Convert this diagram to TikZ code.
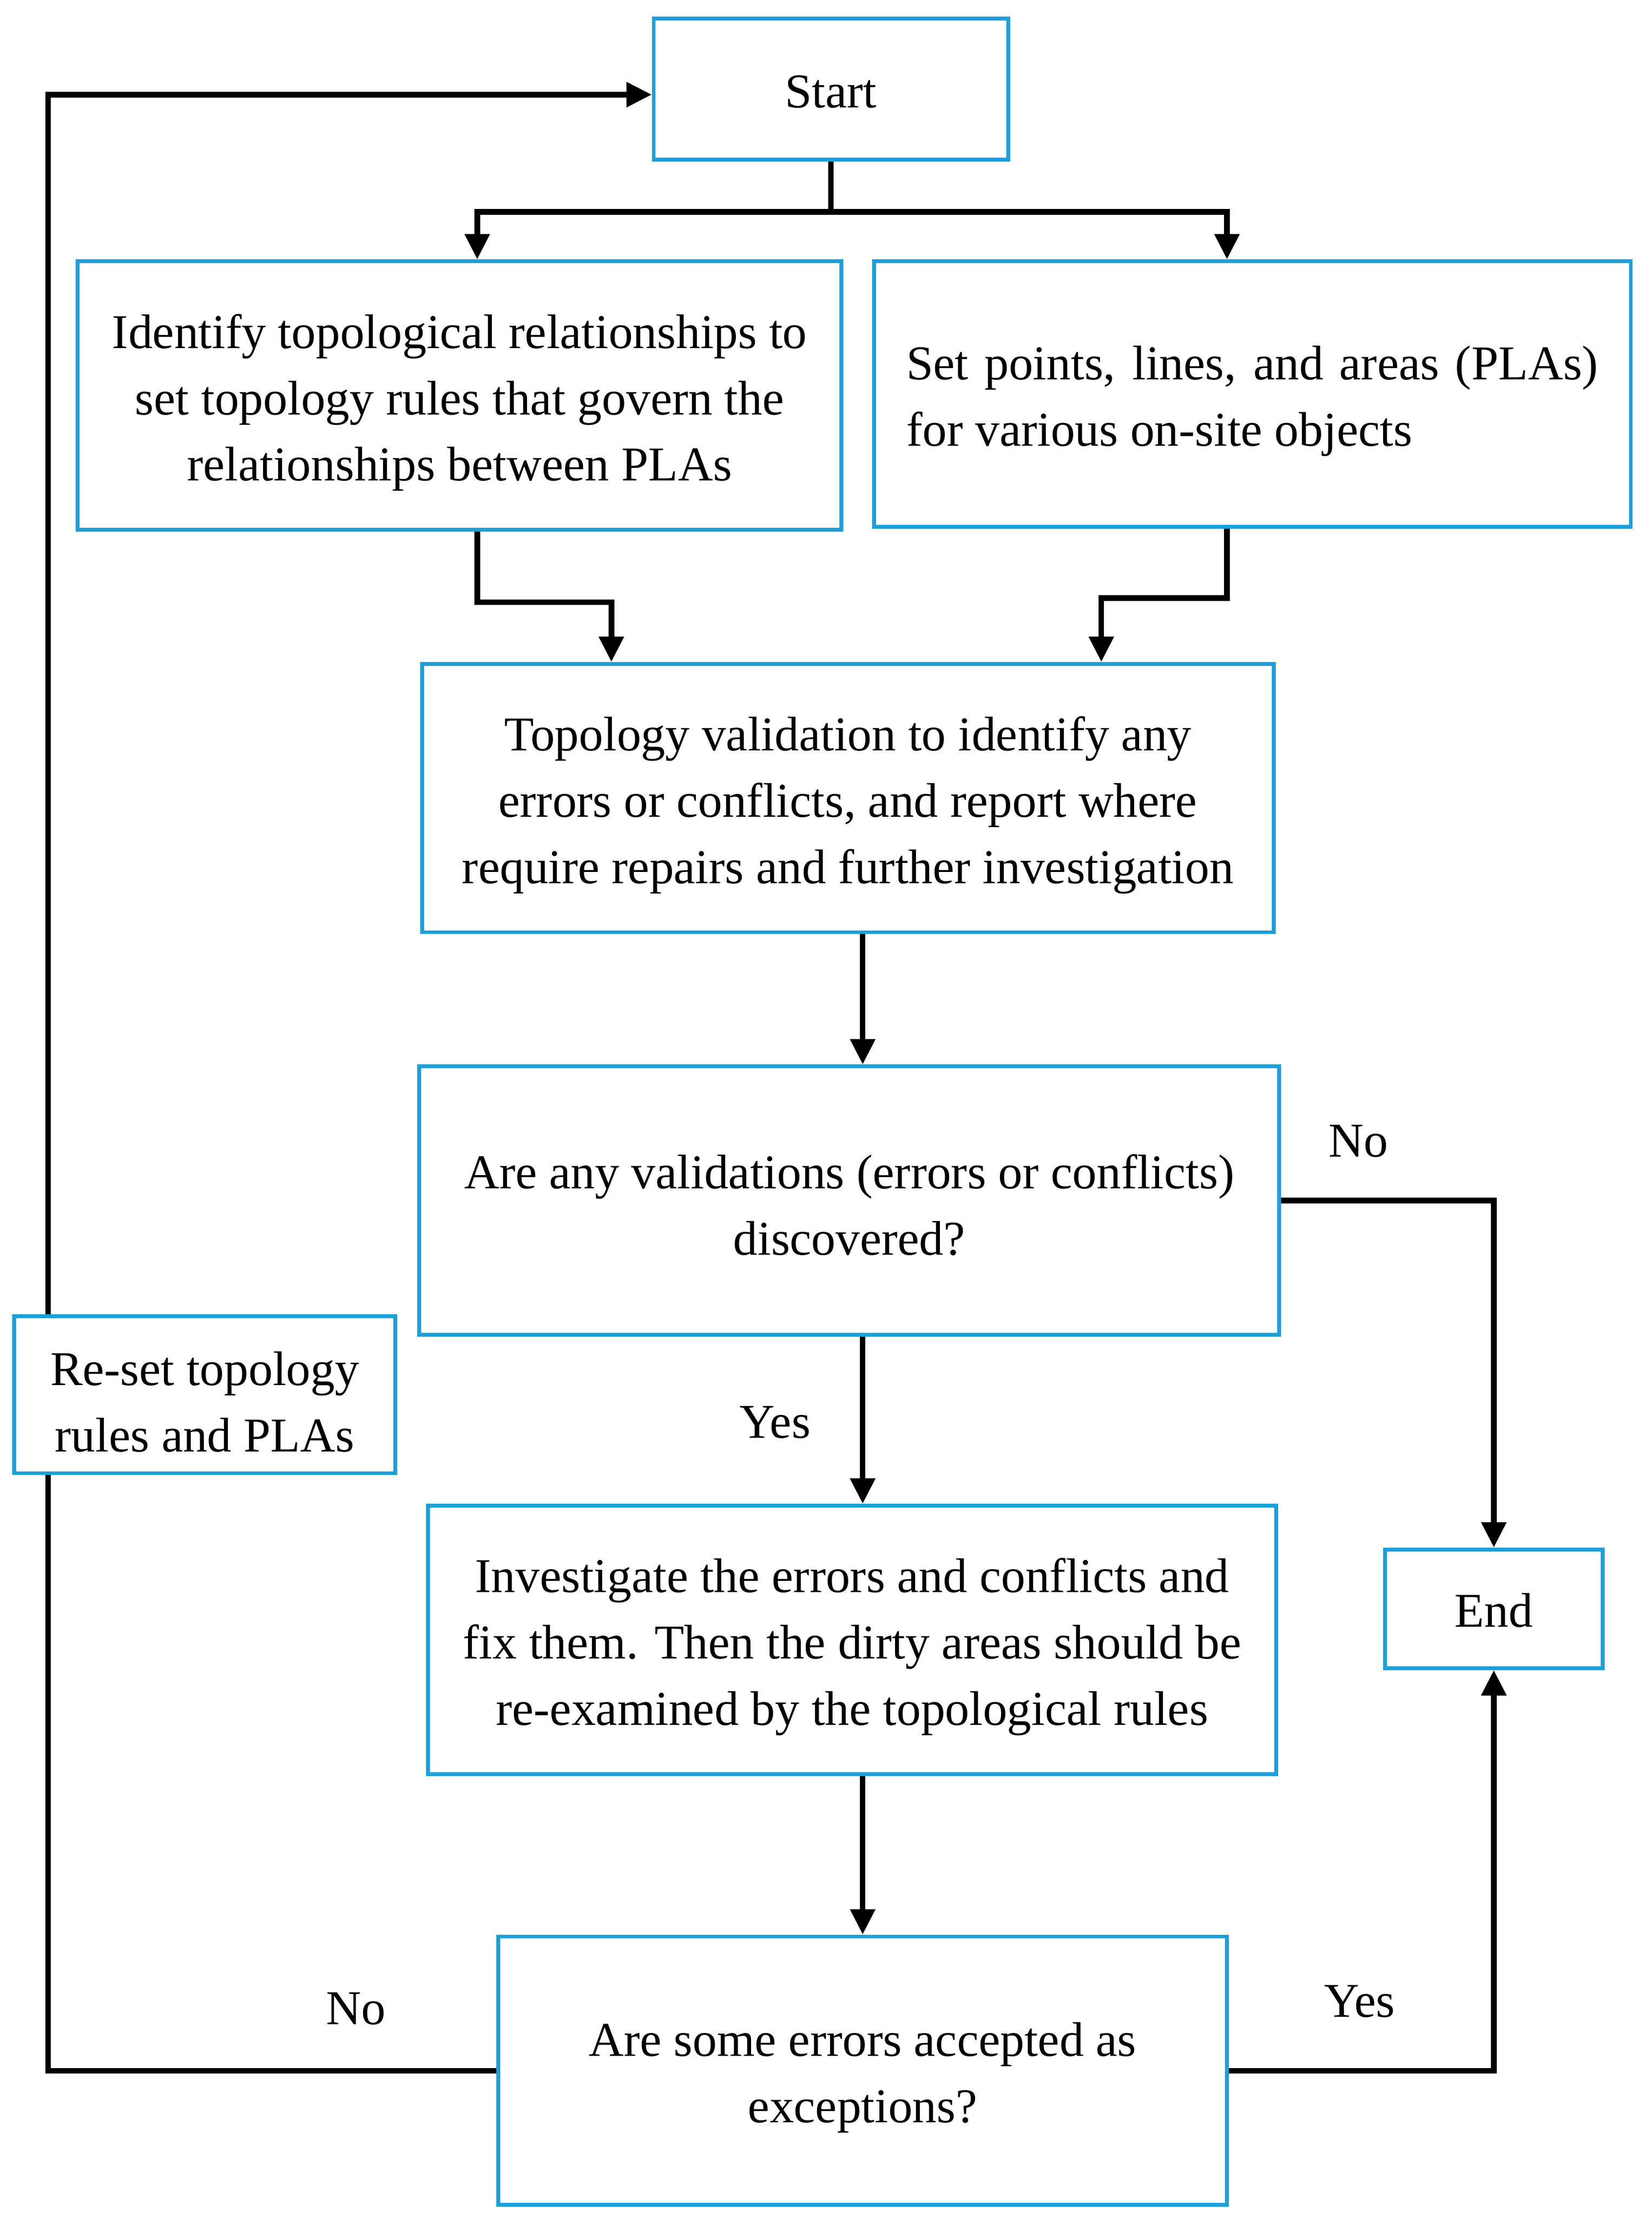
\documentclass[tikz,border=0pt]{standalone}
\usepackage{fontspec}
\setmainfont{Liberation Serif}
\usetikzlibrary{arrows.meta}
\definecolor{boxblue}{RGB}{29,159,217}
\tikzset{
  box/.style={draw=boxblue, line width=1.35pt, fill=white, inner sep=0pt},
  txt/.style={inner sep=0pt, align=center, font=\fontsize{17.2}{23.5}\selectfont},
  conn/.style={line width=2pt, draw=black},
  arr/.style={conn, -{Triangle[length=9pt,width=8.5pt]}},
  lbl/.style={font=\fontsize{17.2}{23.5}\selectfont, inner sep=0pt}
}
\begin{document}
\begin{tikzpicture}[x=0.5pt,y=-0.5pt]
\useasboundingbox (0,0) rectangle (1170,1569.6);
\node[box, minimum width=125.5pt, minimum height=50pt] (start) at (588.5,63) {};
\node[txt] (starttxt) at ([yshift=-1pt]start.center) {Start};
\node[box, minimum width=270.5pt, minimum height=95pt] (ident) at (325.5,280) {};
\node[txt] (identtxt) at ([yshift=-2.5pt]ident.center)
  {Identify topological relationships to\\ set topology rules that govern the\\ relationships between PLAs};
\node[box, minimum width=268pt, minimum height=94pt] (setp) at (887,279) {};
\node[txt, text width=245pt, align=justify] (setptxt) at ([yshift=-2.5pt]setp.center)
  {Set points, lines, and areas (PLAs) for various on-site objects};
\node[box, minimum width=301.5pt, minimum height=95pt] (valid) at (600.5,565) {};
\node[txt] (validtxt) at ([yshift=-2.5pt]valid.center)
  {Topology validation to identify any\\ errors or conflicts, and report where\\ require repairs and further investigation};
\node[box, minimum width=304.5pt, minimum height=95pt] (q1) at (601.5,850) {};
\node[txt] (q1txt) at ([yshift=-1.5pt]q1.center)
  {Are any validations (errors or conflicts)\\ discovered?};
\node[box, minimum width=300.5pt, minimum height=95pt] (inv) at (603.5,1161) {};
\node[txt] (invtxt) at ([yshift=-2.5pt]inv.center)
  {Investigate the errors and conflicts and\\ fix them. Then the dirty areas should be\\ re-examined by the topological rules};
\node[box, minimum width=77pt, minimum height=42pt] (end) at (1058,1139) {};
\node[txt] (endtxt) at ([yshift=-0.5pt]end.center) {End};
\node[box, minimum width=258pt, minimum height=95pt] (q2) at (611,1466) {};
\node[txt] (q2txt) at ([yshift=-2.5pt]q2.center)
  {Are some errors accepted as\\ exceptions?};

\coordinate (split) at (588.5,150);
\coordinate (lx) at (338,0);
\coordinate (rx) at (869,0);
\coordinate (mx) at (611,0);
\coordinate (vlx) at (433,0);
\coordinate (vrx) at (780,0);
\coordinate (loop) at (34,67);

\draw[conn] (start.south) -- (split);
\draw[arr] (split) -| (ident.north -| lx);
\draw[arr] (split) -| (setp.north -| rx);
\draw[arr] (ident.south -| lx) -- ++(0,50) -| (valid.north -| vlx);
\draw[arr] (setp.south -| rx) -- ++(0,49) -| (valid.north -| vrx);
\draw[arr] (valid.south -| mx) -- (q1.north -| mx);
\draw[arr] (q1.south -| mx) -- (inv.north -| mx);
\draw[arr] (inv.south -| mx) -- (q2.north -| mx);
\draw[arr] (q1.east) -| (end.north);
\draw[arr] (q2.east) -| (end.south);
\draw[arr] (q2.west) -| (loop) -- (loop -| start.west);

\node[box, fill=white, minimum width=135pt, minimum height=55.5pt] (reset) at (145,987.5) {};
\node[txt] (resettxt) at ([yshift=-2.5pt]reset.center)
  {Re-set topology\\ rules and PLAs};

\node[lbl] (no1) at (962,808) {No};
\node[lbl] (yes1) at (549,1007) {Yes};
\node[lbl] (yes2) at (963,1417) {Yes};
\node[lbl] (no2) at (252,1422) {No};
\end{tikzpicture}
\end{document}
